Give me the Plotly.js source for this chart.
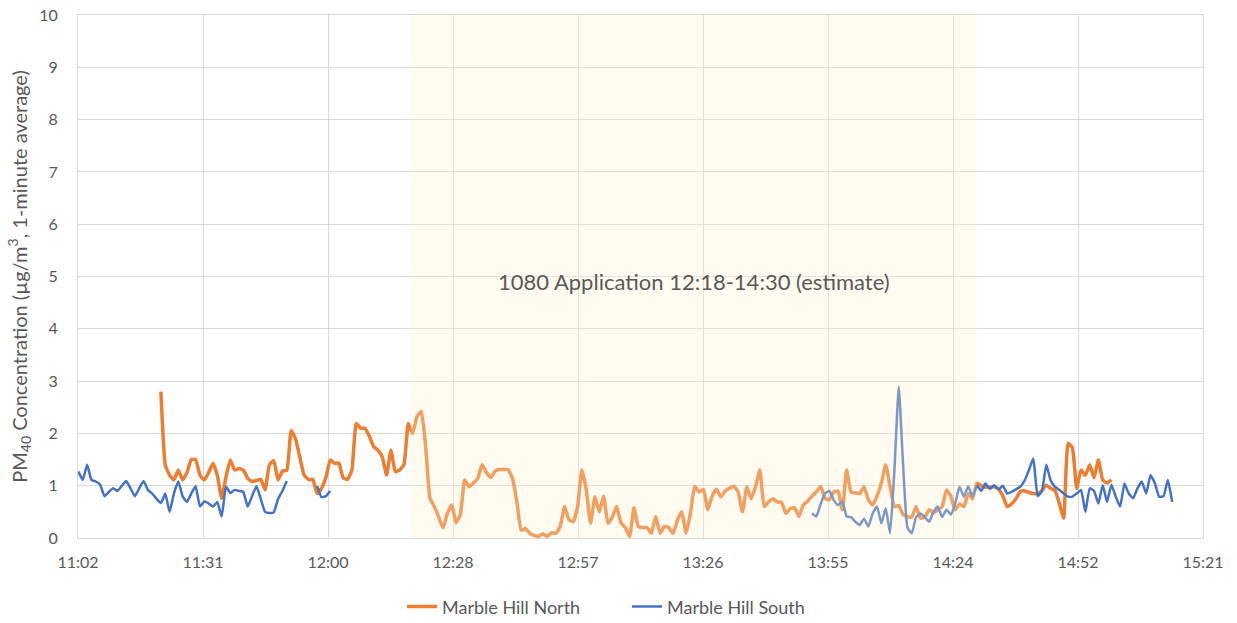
<!DOCTYPE html>
<html>
<head>
<meta charset="utf-8">
<script src="https://cdn.plot.ly/plotly-3.0.1.min.js"></script>
<style>
  html, body { margin: 0; padding: 0; background: #ffffff; }
  #chart { width: 1237px; height: 623px; }
</style>
</head>
<body>
<div id="chart"></div>
<script>
// ---- Data (times are minutes after midnight; one value per minute) ----
const tickLabels = ["11:02", "11:31", "12:00", "12:28", "12:57", "13:26", "13:55", "14:24", "14:52", "15:21"];
const tickMinutes = [662.4, 691.2, 720.0, 748.8, 777.6, 806.4, 835.2, 864.0, 892.8, 921.6];

const applicationStart = 739.0;   // ~12:18
const applicationEnd = 869.5;     // ~14:30
const applicationLabel = "1080 Application 12:18-14:30 (estimate)";

const northStart = 681.5;
const north = [
  2.80, 1.40, 1.20, 1.11, 1.30, 1.11, 1.25, 1.50, 1.50, 1.20,
  1.11, 1.25, 1.43, 1.20, 0.76, 1.17, 1.49, 1.30, 1.33, 1.30,
  1.14, 1.08, 1.10, 1.12, 0.92, 1.40, 1.48, 1.11, 1.28, 1.29,
  2.05, 1.90, 1.55, 1.20, 1.12, 1.12, 0.85, 0.95, 1.15, 1.49,
  1.43, 1.43, 1.15, 1.12, 1.30, 2.19, 2.10, 2.10, 1.95, 1.75,
  1.68, 1.55, 1.20, 1.68, 1.27, 1.30, 1.40, 2.19, 2.00, 2.32,
  2.42, 1.75, 0.76, 0.60, 0.40, 0.19, 0.47, 0.63, 0.29, 0.45,
  1.11, 0.98, 1.05, 1.14, 1.40, 1.25, 1.16, 1.28, 1.31, 1.31,
  1.31, 1.14, 0.70, 0.15, 0.18, 0.09, 0.05, 0.03, 0.08, 0.03,
  0.10, 0.09, 0.22, 0.60, 0.35, 0.31, 0.60, 1.30, 0.92, 0.28,
  0.79, 0.50, 0.80, 0.28, 0.40, 0.60, 0.29, 0.20, 0.03, 0.58,
  0.22, 0.20, 0.20, 0.09, 0.41, 0.09, 0.22, 0.20, 0.09, 0.34,
  0.50, 0.09, 0.47, 0.99, 0.88, 0.93, 0.54, 0.80, 0.93, 0.79,
  0.90, 0.95, 0.99, 0.88, 0.50, 0.98, 0.75, 0.98, 1.30, 0.60,
  0.69, 0.75, 0.69, 0.68, 0.47, 0.56, 0.58, 0.41, 0.63, 0.70,
  0.80, 0.88, 0.99, 0.76, 0.73, 0.88, 0.90, 0.54, 1.30, 0.88,
  0.86, 0.85, 0.98, 0.73, 0.63, 0.80, 1.05, 1.40, 0.98, 0.60,
  0.62, 0.45, 0.41, 0.40, 0.60, 0.38, 0.40, 0.54, 0.48, 0.54,
  0.60, 0.92, 0.80, 0.54, 0.65, 0.60, 0.85, 0.75, 1.05, 1.00,
  0.97, 0.97, 0.98, 0.93, 0.80, 0.60, 0.65, 0.75, 0.89, 0.90,
  0.87, 0.85, 0.85, 0.91, 1.01, 0.95, 0.91, 0.66, 0.38, 1.81,
  1.73, 0.95, 1.30, 1.20, 1.40, 1.15, 1.49, 1.11, 1.05, 1.11
];

const southStartA = 662.5;
const southA = [
  1.27, 1.11, 1.40, 1.11, 1.08, 1.02, 0.80, 0.88, 0.95, 0.90,
  1.00, 1.09, 0.95, 0.80, 0.95, 1.09, 0.92, 0.85, 0.75, 0.67,
  0.85, 0.50, 0.85, 1.08, 0.80, 0.69, 0.85, 0.99, 0.60, 0.70,
  0.66, 0.60, 0.69, 0.41, 0.98, 0.86, 0.92, 0.90, 0.88, 0.60,
  0.80, 0.99, 0.75, 0.50, 0.48, 0.49, 0.75, 0.90, 1.09
];
const southStartB = 717.5;
const southB = [0.99, 0.78, 0.80, 0.90];
const southStartC = 831.5;
const southC = [
  0.47, 0.41, 0.65, 0.85, 0.90, 0.73, 0.63, 0.70, 0.41, 0.40,
  0.31, 0.25, 0.37, 0.22, 0.47, 0.60, 0.28, 0.57, 0.09, 1.30,
  2.89, 1.40, 0.20, 0.09, 0.40, 0.47, 0.40, 0.31, 0.50, 0.60,
  0.40, 0.54, 0.45, 0.66, 0.98, 0.79, 0.99, 0.79, 1.00, 0.90,
  1.04, 0.94, 1.01, 0.93, 1.00, 0.85, 0.88, 0.93, 0.98, 1.10,
  1.30, 1.52, 0.80, 0.90, 1.40, 1.10, 0.98, 0.92, 0.85, 0.79,
  0.79, 0.85, 0.92, 0.50, 0.95, 0.90, 0.66, 1.01, 0.69, 1.02,
  0.79, 0.60, 1.04, 0.85, 0.76, 0.95, 1.08, 0.85, 1.20, 1.05,
  0.79, 0.80, 1.11, 0.69
];

// ---- Build traces ----
function times(start, arr) { return arr.map((_, i) => start + i); }

const southX = [], southY = [];
[[southStartA, southA], [southStartB, southB], [southStartC, southC]].forEach((seg, k) => {
  if (k > 0) { southX.push(null); southY.push(null); }
  times(seg[0], seg[1]).forEach((t, i) => { southX.push(t); southY.push(seg[1][i]); });
});

const FONT = "Lato, 'Open Sans', sans-serif";
const GREY = "#595959";

const traces = [
  {
    type: "scatter", mode: "lines", name: "Marble Hill North",
    x: times(northStart, north), y: north,
    line: { color: "#ED7D31", width: 3.5, shape: "spline", smoothing: 0.4 },
    hoverinfo: "skip"
  },
  {
    type: "scatter", mode: "lines", name: "Marble Hill South",
    x: southX, y: southY, connectgaps: false,
    line: { color: "#4472C4", width: 2.5, shape: "spline", smoothing: 0.4 },
    hoverinfo: "skip"
  }
];

const layout = {
  width: 1237, height: 623,
  margin: { l: 78, r: 34, t: 15, b: 85 },
  paper_bgcolor: "#ffffff", plot_bgcolor: "#ffffff",
  font: { family: FONT, size: 16, color: GREY },
  showlegend: true,
  legend: {
    orientation: "h", xref: "paper", x: 0.288, xanchor: "left",
    yref: "container", y: 0.026, yanchor: "middle",
    entrywidth: 180,
    font: { family: FONT, size: 18, color: GREY }, tracegroupgap: 0
  },
  xaxis: {
    range: [tickMinutes[0], tickMinutes[tickMinutes.length - 1]],
    tickmode: "array", tickvals: tickMinutes, ticktext: tickLabels,
    showgrid: true, gridcolor: "#D9D9D9", gridwidth: 1,
    showline: true, linecolor: "#D9D9D9", linewidth: 1, mirror: true,
    zeroline: false, ticks: "", ticklabelstandoff: 10,
    tickfont: { family: FONT, size: 16, color: GREY }
  },
  yaxis: {
    range: [0, 10], dtick: 1, tick0: 0,
    showgrid: true, gridcolor: "#D9D9D9", gridwidth: 1,
    showline: true, linecolor: "#D9D9D9", linewidth: 1, mirror: true,
    zeroline: false, ticks: "", ticklabelstandoff: 16,
    tickfont: { family: FONT, size: 16, color: GREY },
    title: {
      text: "PM<sub>40</sub> Concentration (µg/m<sup>3</sup>, 1-minute average)",
      font: { family: FONT, size: 20, color: GREY }, standoff: 6
    }
  },
  shapes: [{
    type: "rect", xref: "x", yref: "y",
    x0: applicationStart, x1: applicationEnd, y0: 0, y1: 10,
    fillcolor: "#FFF2CC", opacity: 0.3, line: { width: 0 }, layer: "above"
  }],
  annotations: [{
    xref: "x", yref: "y",
    x: (applicationStart + applicationEnd) / 2, y: 4.91,
    text: applicationLabel, showarrow: false,
    font: { family: FONT, size: 22, color: GREY }
  }]
};

Plotly.newPlot("chart", traces, layout, { displayModeBar: false, staticPlot: true });
</script>
</body>
</html>
